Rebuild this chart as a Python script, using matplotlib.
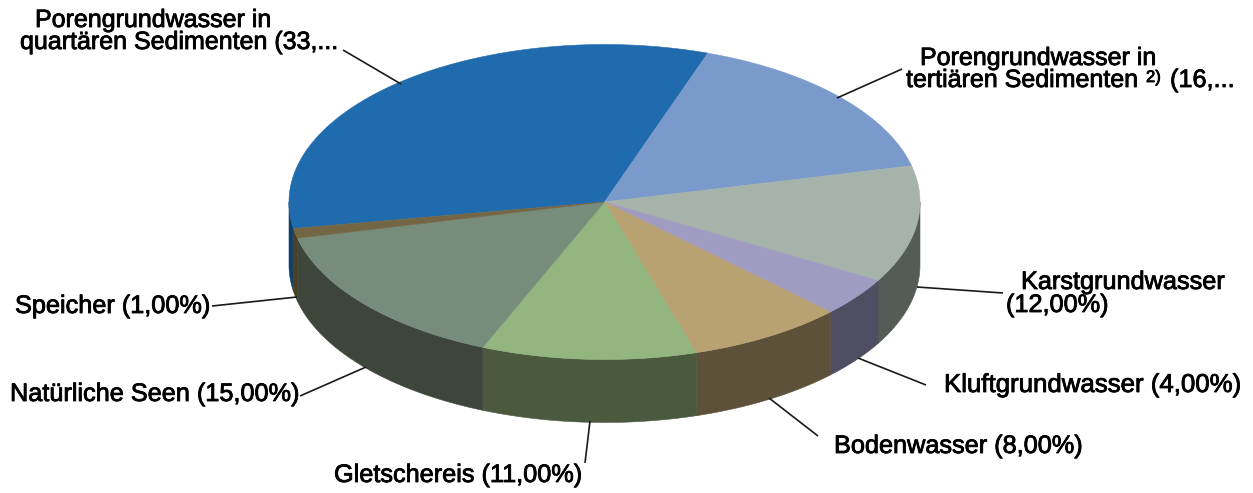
import numpy as np
import matplotlib
matplotlib.use("Agg")
import matplotlib.pyplot as plt
import matplotlib.patheffects as pe

plt.rcParams['font.family'] = ['Liberation Sans', 'DejaVu Sans']

categories = ["Porengrundwasser in quartären Sedimenten", "Porengrundwasser in tertiären Sedimenten",
              "Karstgrundwasser", "Kluftgrundwasser", "Bodenwasser", "Gletschereis",
              "Natürliche Seen", "Speicher"]
values = [33, 16, 12, 4, 8, 11, 15, 1]
top_colors = ["#1F6BAE", "#7A9ACB", "#A5B3AA", "#9F9BC1", "#B8A272", "#93B57F", "#788C7C", "#736645"]
side_colors = ["#123F68", "#4A5C78", "#535D55", "#4F4D61", "#5D513A", "#4B5A3E", "#3E463C", "#4A3F20"]

# text, left x, baseline y, font size
label_lines = [
    ("Porengrundwasser in", 35, 27, 18.0), ("quartären Sedimenten (33,...", 20, 49, 18.0),
    ("Porengrundwasser in", 920, 65, 18.0), ("tertiären Sedimenten", 906, 87, 18.0),
    ("2)", 1146, 82, 12), ("(16,...", 1170, 87, 18.2),
    ("Karstgrundwasser", 1021, 289, 18.2), ("(12,00%)", 1006, 312, 18.2),
    ("Kluftgrundwasser (4,00%)", 944, 392, 18.6),
    ("Bodenwasser (8,00%)", 834, 453, 18.2),
    ("Gletschereis (11,00%)", 334, 482, 18.2),
    ("Natürliche Seen (15,00%)", 10, 401, 18.2),
    ("Speicher (1,00%)", 15, 313, 18.2),
]
leaders = [((343, 50), (401, 84)), ((902, 69), (837, 98)), ((917, 287), (1003, 293)),
           ((858, 358), (926, 385)), ((769, 398), (818, 436)), ((590, 421), (585, 463)),
           ((366, 367), (300, 396)), ((297, 297), (212, 306))]

CX, CY, RX, RY, DEPTH = 604.5, 202.0, 315.5, 157.5, 63.0
START = 189.7

fig = plt.figure(figsize=(12.53, 4.93), dpi=100, facecolor="white")
ax = fig.add_axes([0, 0, 1, 1])
ax.set_xlim(0, 1253)
ax.set_ylim(493, 0)
ax.axis("off")

fracs = np.array(values, dtype=float) / sum(values)
edges = START - 360 * np.concatenate([[0], np.cumsum(fracs)])


def rim(a0, a1, dy=0.0):
    t = np.radians(np.linspace(a0, a1, 200))
    return CX + RX * np.cos(t), CY - RY * np.sin(t) + dy


# side walls: only the part of each rim on the lower half of the ellipse
for i in range(len(values)):
    a0, a1 = edges[i], edges[i + 1]
    for lo, hi in [(-180, 0), (180, 360)]:
        s0, s1 = min(a0, hi), max(a1, lo)
        if s0 <= s1:
            continue
        x, y = rim(s0, s1)
        xb, yb = rim(s1, s0, DEPTH)
        ax.fill(np.r_[x, xb], np.r_[y, yb], facecolor=side_colors[i],
                edgecolor=side_colors[i], lw=0.4, zorder=2)

# top faces
for i in range(len(values)):
    x, y = rim(edges[i], edges[i + 1])
    ax.fill(np.r_[CX, x], np.r_[CY, y], facecolor=top_colors[i],
            edgecolor=top_colors[i], lw=0.4, zorder=3)

for (x0, y0), (x1, y1) in leaders:
    ax.plot([x0, x1], [y0, y1], color="#1a1a1a", lw=1.2, zorder=4, solid_capstyle="butt")

for txt, x, y, size in label_lines:
    ax.text(x, y, txt, fontsize=size, color="black", ha="left", va="baseline",
            path_effects=[pe.withStroke(linewidth=0.6, foreground="black")], zorder=5)

fig.savefig("out.png", dpi=100, facecolor="white")
